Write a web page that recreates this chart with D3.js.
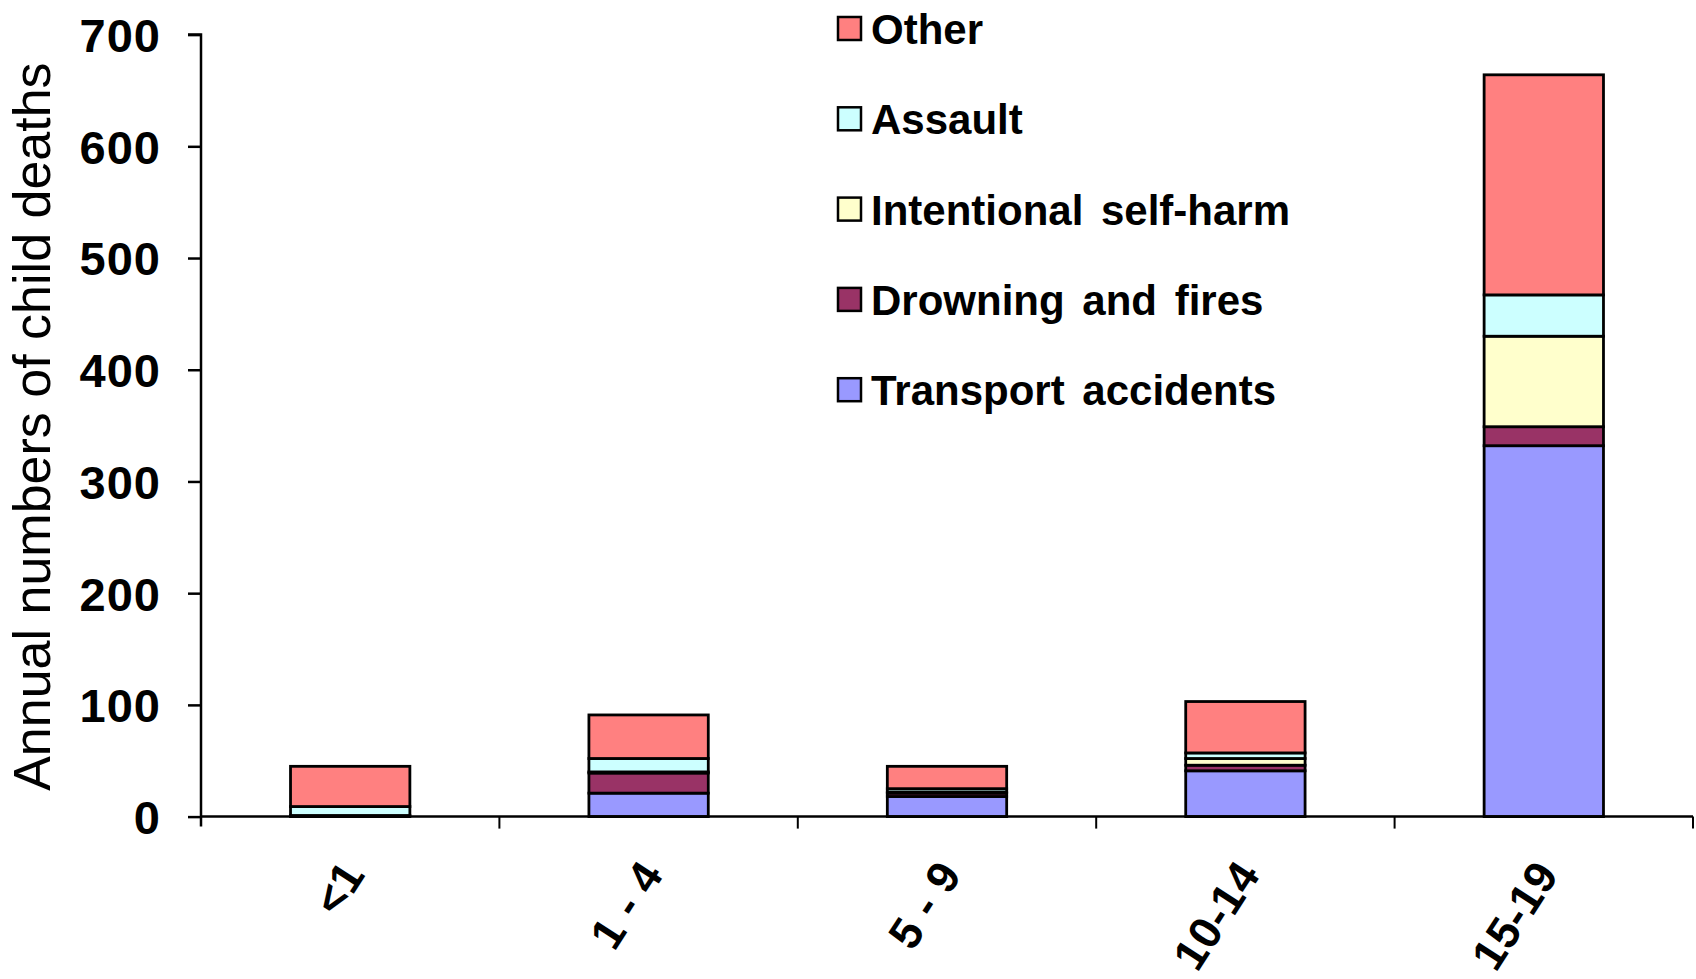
<!DOCTYPE html>
<html><head><meta charset="utf-8">
<script src="https://cdn.jsdelivr.net/npm/d3@7/dist/d3.min.js"></script>
<style>
html,body{margin:0;padding:0;background:#fff;}
svg{display:block;font-family:"Liberation Sans",Arial,sans-serif;}
</style></head>
<body><svg id="c" width="1696" height="979"></svg>
<script>
const categories = ["<1", "1 - 4", "5 - 9", "10-14", "15-19"];
const seriesNames = ["Transport accidents", "Drowning and fires", "Intentional self-harm", "Assault", "Other"];
const transport = [0, 21, 18, 41, 332];
const drowning  = [1, 18, 3, 5, 17];
const selfHarm  = [0, 1, 1, 6, 81];
const assault   = [8, 12, 3, 5, 37];
const other     = [36, 39, 20, 46, 197];
const colors = ["#9999FF", "#993366", "#FFFFCC", "#CCFFFF", "#FF8080"];
const yTicks = [0, 100, 200, 300, 400, 500, 600, 700];
const legendOrder = ["Other", "Assault", "Intentional self-harm", "Drowning and fires", "Transport accidents"];

const seriesVals = [transport, drowning, selfHarm, assault, other];
const rows = categories.map((c, i) => {
  const r = {cat: c};
  seriesNames.forEach((s, j) => r[s] = seriesVals[j][i]);
  return r;
});

const svg = d3.select("#c");
const m = {left: 201, top: 34.6, right: 1693, bottom: 816.6};

const x = d3.scaleBand().domain(categories).range([m.left, m.right]).paddingInner(0.6).paddingOuter(0.3);
const y = d3.scaleLinear().domain([0, 700]).range([m.bottom, m.top]);
const color = d3.scaleOrdinal().domain(seriesNames).range(colors);

const stack = d3.stack().keys(seriesNames)(rows);

// bars
const g = svg.append("g");
stack.forEach(layer => {
  g.selectAll(null).data(layer).enter().append("rect")
    .attr("x", d => x(d.data.cat))
    .attr("width", x.bandwidth())
    .attr("y", d => y(d[1]))
    .attr("height", d => Math.max(0, y(d[0]) - y(d[1])))
    .attr("fill", color(layer.key))
    .attr("stroke", "#000")
    .attr("stroke-width", 2.8);
});

// y axis
const yAxis = d3.axisLeft(y).tickValues(yTicks).tickSize(13).tickPadding(27);
const ya = svg.append("g").attr("transform", `translate(${m.left},0)`).call(yAxis);
ya.select(".domain").attr("stroke", "#000").attr("stroke-width", 2.5).attr("d", `M-13,${m.top}H0V${m.bottom + 10}`);
ya.selectAll(".tick line").attr("stroke", "#000").attr("stroke-width", 2.5);
ya.selectAll(".tick text").attr("font-size", 47).attr("font-weight", "bold").attr("fill", "#000")
  .attr("font-family", "'Liberation Sans',Arial,sans-serif").attr("dy", "0.36em").attr("letter-spacing", 1);

// x axis
const xa = svg.append("g").attr("transform", `translate(0,${m.bottom})`);
xa.append("line").attr("x1", m.left).attr("x2", m.right).attr("y1", 0).attr("y2", 0)
  .attr("stroke", "#000").attr("stroke-width", 2.5);
const step = x.step();
xa.selectAll(".xt").data(categories).enter().append("line")
  .attr("x1", d => x(d) + x.bandwidth() / 2 + step / 2)
  .attr("x2", d => x(d) + x.bandwidth() / 2 + step / 2)
  .attr("y1", 0).attr("y2", 12).attr("stroke", "#000").attr("stroke-width", 2);
xa.selectAll(".xl").data(categories).enter().append("text")
  .attr("transform", d => `translate(${x(d) + x.bandwidth() / 2 + 16},58) rotate(-57)`)
  .attr("text-anchor", "end")
  .attr("font-size", 45).attr("font-weight", "bold").attr("letter-spacing", 0.5)
  .text(d => d);

// y title
svg.append("text")
  .attr("transform", `translate(50,${(m.top + m.bottom) / 2 + 1}) rotate(-90)`)
  .attr("text-anchor", "middle")
  .attr("font-size", 52)
  .text("Annual numbers of child deaths");

// legend
const lg = svg.append("g");
legendOrder.forEach((name, i) => {
  const cy = 29 + i * 90.3;
  lg.append("rect").attr("x", 838).attr("y", cy - 12).attr("width", 23).attr("height", 23)
    .attr("fill", color(seriesNames[4 - i])).attr("stroke", "#000").attr("stroke-width", 2.5);
  lg.append("text").attr("x", 871).attr("y", cy).attr("dy", "0.36em")
    .attr("font-size", 42).attr("font-weight", "bold").attr("word-spacing", 6)
    .text(name);
});
</script>
</body></html>
